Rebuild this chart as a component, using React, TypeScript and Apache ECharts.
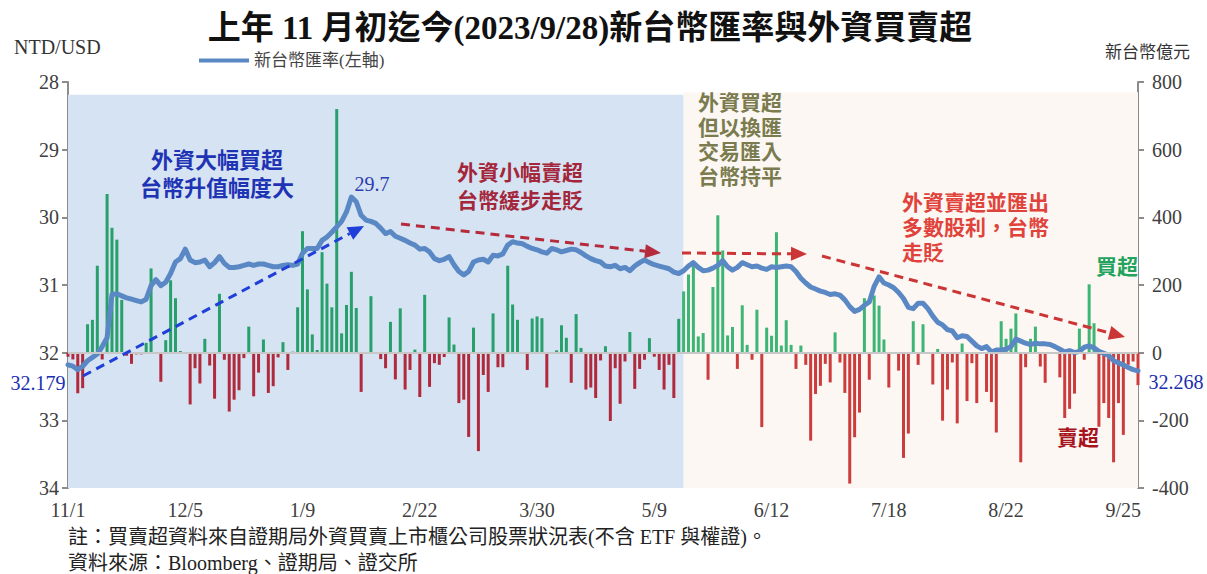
import React, { useEffect, useRef } from "react";
import * as echarts from "echarts";

// Trading days (month, days) from 2022/11/1 to 2023/9/28
const TRADING_MONTHS: Array<[number, number[]]> = [
  [11, [1, 2, 3, 4, 7, 8, 9, 10, 11, 14, 15, 16, 17, 18, 21, 22, 23, 24, 25, 28, 29, 30]],
  [12, [1, 2, 5, 6, 7, 8, 9, 12, 13, 14, 15, 16, 19, 20, 21, 22, 23, 26, 27, 28, 29, 30]],
  [1, [3, 4, 5, 6, 9, 10, 11, 12, 13, 16, 17, 30, 31]],
  [2, [1, 2, 3, 6, 7, 8, 9, 10, 13, 14, 15, 16, 17, 20, 21, 22, 23, 24]],
  [3, [1, 2, 3, 6, 7, 8, 9, 10, 13, 14, 15, 16, 17, 20, 21, 22, 23, 24, 27, 28, 29, 30, 31]],
  [4, [6, 7, 10, 11, 12, 13, 14, 17, 18, 19, 20, 21, 24, 25, 26, 27, 28]],
  [5, [2, 3, 4, 5, 8, 9, 10, 11, 12, 15, 16, 17, 18, 19, 22, 23, 24, 25, 26, 29, 30, 31]],
  [6, [1, 2, 5, 6, 7, 8, 9, 12, 13, 14, 15, 16, 19, 20, 21, 26, 27, 28, 29, 30]],
  [7, [3, 4, 5, 6, 7, 10, 11, 12, 13, 14, 17, 18, 19, 20, 21, 24, 25, 26, 27, 28, 31]],
  [8, [1, 2, 4, 7, 8, 9, 10, 11, 14, 15, 16, 17, 18, 21, 22, 23, 24, 25, 28, 29, 30, 31]],
  [9, [1, 4, 5, 6, 7, 8, 11, 12, 13, 14, 15, 18, 19, 20, 21, 22, 25, 26, 27, 28]],
];
const categories: string[] = TRADING_MONTHS.flatMap(([m, days]) => days.map((d) => `${m}/${d}`));

// NTD/USD exchange rate (left axis, inverted)
const fxRate: number[] = [
  32.179, 32.2, 32.25, 32.2, 32.12, 32.07, 32.02, 31.91, 31.78, 31.14,
  31.13, 31.16, 31.19, 31.21, 31.23, 31.25, 31.21, 31.01, 30.92, 31.01,
  30.96, 30.83, 30.66, 30.61, 30.47, 30.63, 30.67, 30.66, 30.63, 30.73,
  30.67, 30.58, 30.68, 30.74, 30.74, 30.73, 30.71, 30.69, 30.71, 30.69,
  30.69, 30.71, 30.73, 30.73, 30.71, 30.7, 30.71, 30.69, 30.53, 30.46,
  30.46, 30.46, 30.34, 30.29, 30.22, 30.14, 30.06, 29.92, 29.7, 29.77,
  29.97, 30.04, 30.06, 30.09, 30.16, 30.24, 30.21, 30.28, 30.31, 30.34,
  30.38, 30.41, 30.47, 30.46, 30.51, 30.61, 30.64, 30.62, 30.58, 30.7,
  30.8, 30.85, 30.8, 30.66, 30.63, 30.62, 30.66, 30.56, 30.57, 30.54,
  30.41, 30.36, 30.38, 30.39, 30.43, 30.46, 30.48, 30.51, 30.53, 30.46,
  30.48, 30.51, 30.49, 30.47, 30.48, 30.52, 30.57, 30.61, 30.64, 30.66,
  30.72, 30.73, 30.71, 30.76, 30.74, 30.79, 30.72, 30.67, 30.63, 30.67,
  30.7, 30.72, 30.74, 30.76, 30.81, 30.83, 30.79, 30.72, 30.67, 30.74,
  30.79, 30.78, 30.75, 30.71, 30.64, 30.73, 30.78, 30.74, 30.67, 30.7,
  30.73, 30.72, 30.75, 30.77, 30.73, 30.74, 30.73, 30.72, 30.73, 30.8,
  30.9, 30.97, 31.03, 31.06, 31.09, 31.11, 31.14, 31.13, 31.15, 31.22,
  31.32, 31.39, 31.36, 31.3, 31.25, 31.02, 30.88, 30.97, 31.0, 31.04,
  31.11, 31.2, 31.33, 31.35, 31.27, 31.27, 31.35, 31.46, 31.55, 31.59,
  31.66, 31.68, 31.78, 31.75, 31.76, 31.83, 31.9, 31.94, 31.91, 31.99,
  31.96, 31.96, 31.95, 31.91, 31.8, 31.83, 31.86, 31.88, 31.86, 31.87,
  31.87, 31.88, 31.91, 31.95, 31.99, 31.97, 32.0, 31.98, 31.92, 31.9,
  31.93, 31.98, 32.01, 32.04, 32.12, 32.15, 32.18, 32.22, 32.25, 32.268,
];

// Foreign net buy/sell, NT$ 100 million (right axis)
const netBuy: number[] = [
  -12, -20, -120, -105, 84, 97, 257, -20, 469, 369,
  334, 156, -9, -33, -5, -5, 29, 249, 0, -86,
  37, 214, 161, 5, 0, -153, -46, -91, 41, -38,
  -136, 174, -21, -174, -139, -111, -16, 77, -129, -59,
  39, -119, -99, -14, 31, -51, 3, 134, 359, 187,
  54, 8, 297, 204, 134, 720, 57, 141, 239, 132,
  -116, 0, 167, 0, -19, -46, 91, -79, 131, -109,
  -51, 9, -131, 171, -101, -31, -36, -13, 104, 24,
  -149, -139, -249, 74, -291, -66, -116, 116, -43, -43,
  257, 142, 97, 0, -51, 101, 107, 102, -103, 0,
  7, 81, 44, -89, 114, 14, -109, -103, -134, -23,
  19, -202, -46, -151, -26, 61, -107, -48, -21, 43,
  -12, -51, -109, -36, -134, 100, 181, 231, 256, 48,
  58, -80, 194, 406, 302, 51, 76, -48, 140, 23,
  -21, 127, -220, 74, 50, 356, 21, 96, 23, -48,
  21, -36, -260, -122, -98, -33, -88, 60, -29, -119,
  -387, -250, -177, 161, -80, 169, 139, 39, -103, 0,
  -53, -311, -239, 93, -36, 84, 0, -94, 11, -201,
  -109, -29, -209, 27, -143, -31, -149, 0, -116, -146,
  -236, 93, 41, 71, 116, -324, -43, 41, 77, -41,
  -89, 0, 0, -73, -193, -166, -121, 71, -21, 202,
  87, -219, -149, -193, -324, -149, -243, -36, -26, -96,
];

const leftTicks = { min: 28, max: 34, interval: 1 };
const rightTicks = { min: -400, max: 800, interval: 200 };
const phaseSplitIndex = 126; // shaded periods boundary

const SERIF = "'Liberation Serif', 'Noto Sans CJK TC', serif";
const CJK = "'Liberation Serif', 'Noto Sans CJK TC', sans-serif";

function arrow(x1: number, y1: number, x2: number, y2: number, color: string) {
  const dx = x2 - x1;
  const dy = y2 - y1;
  const L = Math.hypot(dx, dy);
  const ux = dx / L;
  const uy = dy / L;
  const hl = 16;
  const hw = 7;
  const bx = x2 - ux * hl;
  const by = y2 - uy * hl;
  return [
    {
      type: "line",
      z: 100,
      silent: true,
      shape: { x1, y1, x2: bx, y2: by },
      style: { stroke: color, lineWidth: 3, lineDash: [9, 6] },
    },
    {
      type: "polygon",
      z: 100,
      silent: true,
      shape: {
        points: [
          [x2, y2],
          [bx - uy * hw, by + ux * hw],
          [bx + uy * hw, by - ux * hw],
        ],
      },
      style: { fill: color },
    },
  ];
}

function txt(
  text: string,
  x: number,
  y: number,
  opts: { size: number; color: string; bold?: boolean; align?: string; lineHeight?: number; family?: string }
) {
  return {
    type: "text",
    z: 100,
    silent: true,
    style: {
      text,
      x,
      y,
      fill: opts.color,
      fontSize: opts.size,
      fontWeight: opts.bold ? "bold" : "normal",
      fontFamily: opts.family || CJK,
      lineHeight: opts.lineHeight,
      align: opts.align || "center",
      textAlign: opts.align || "center",
      verticalAlign: "middle",
      textVerticalAlign: "middle",
    },
  };
}

export default function App() {
  const ref = useRef<HTMLDivElement>(null);

  useEffect(() => {
    if (!ref.current) return;
    const chart = echarts.init(ref.current, undefined, { renderer: "svg" });
    const axisLineStyle = { color: "#8c8c8c", width: 2 };

    const option: any = {
      animation: false,
      backgroundColor: "#ffffff",
      grid: { left: 68, right: 69, top: 82, bottom: 86, containLabel: false },
      legend: {
        data: ["新台幣匯率(左軸)"],
        left: 194,
        top: 47,
        icon: "rect",
        itemWidth: 50,
        itemHeight: 4,
        itemGap: 4,
        textStyle: { fontSize: 17, color: "#444", fontFamily: CJK },
        selectedMode: false,
      },
      xAxis: {
        type: "category",
        data: categories,
        boundaryGap: false,
        axisLine: { show: false },
        axisTick: { show: false },
        splitLine: { show: false },
        axisLabel: { interval: 23, fontSize: 20, color: "#404040", fontFamily: SERIF, margin: 12 },
      },
      yAxis: [
        {
          type: "value",
          position: "left",
          inverse: true,
          min: leftTicks.min,
          max: leftTicks.max,
          interval: leftTicks.interval,
          axisLine: { show: true, lineStyle: axisLineStyle },
          axisTick: { show: true, length: 6, lineStyle: axisLineStyle },
          splitLine: { show: false },
          axisLabel: { fontSize: 20, color: "#404040", fontFamily: SERIF, margin: 9 },
        },
        {
          type: "value",
          position: "right",
          min: rightTicks.min,
          max: rightTicks.max,
          interval: rightTicks.interval,
          axisLine: { show: true, lineStyle: axisLineStyle },
          axisTick: { show: true, length: 6, lineStyle: axisLineStyle },
          splitLine: { show: false },
          axisLabel: { fontSize: 20, color: "#404040", fontFamily: SERIF, margin: 14 },
        },
      ],
      series: [
        {
          name: "bg",
          type: "line",
          yAxisIndex: 0,
          data: categories.map(() => null),
          symbol: "none",
          silent: true,
          z: 1,
          lineStyle: { width: 0 },
          markArea: {
            silent: true,
            label: { show: false },
            data: [
              [
                { xAxis: categories[0], yAxis: 28.19, itemStyle: { color: "#d5e3f2" } },
                { xAxis: categories[phaseSplitIndex], yAxis: 34 },
              ],
              [
                { xAxis: categories[phaseSplitIndex], yAxis: 28.15, itemStyle: { color: "#fcf7f3" } },
                { xAxis: categories[categories.length - 1], yAxis: 34 },
              ],
            ],
          },
          markLine: {
            silent: true,
            symbol: "none",
            label: { show: false },
            lineStyle: { color: "#c8c8c8", width: 2, type: "solid" },
            data: [{ yAxis: 32 }],
          },
        },
        {
          name: "外資買賣超",
          type: "bar",
          yAxisIndex: 1,
          data: netBuy,
          barWidth: 3,
          z: 2,
          itemStyle: {
            color: (p: any) => {
              const early = p.dataIndex < phaseSplitIndex;
              if (p.value >= 0) return early ? "#27a06c" : "#3db574";
              return early ? "#b0293d" : "#cc3c3c";
            },
          },
        },
        {
          name: "新台幣匯率(左軸)",
          type: "line",
          yAxisIndex: 0,
          data: fxRate,
          symbol: "none",
          z: 3,
          itemStyle: { color: "#5a88c4" },
          lineStyle: { color: "#5a88c4", width: 5, cap: "round", join: "round" },
        },
      ],
      graphic: [
        txt("上年 11 月初迄今(2023/9/28)新台幣匯率與外資買賣超", 590, 28, {
          size: 33,
          color: "#111",
          bold: true,
        }),
        txt("NTD/USD", 14, 47, { size: 20, color: "#333", align: "left", family: SERIF }),
        txt("新台幣億元", 1190, 52, { size: 17, color: "#333", align: "right" }),
        txt("外資大幅買超\n台幣升值幅度大", 217, 174, { size: 22, color: "#1f33b5", bold: true, lineHeight: 28 }),
        txt("29.7", 372, 184, { size: 20, color: "#2a3cb0", family: SERIF }),
        txt("外資小幅賣超\n台幣緩步走貶", 520, 187, { size: 21, color: "#a3263a", bold: true, lineHeight: 28 }),
        txt("外資買超\n但以換匯\n交易匯入\n台幣持平", 740, 140, {
          size: 21,
          color: "#7a7b4e",
          bold: true,
          lineHeight: 24.7,
        }),
        txt("外資賣超並匯出\n多數股利，台幣\n走貶", 902, 228, {
          size: 21,
          color: "#e0433b",
          bold: true,
          align: "left",
          lineHeight: 25,
        }),
        txt("買超", 1117, 267, { size: 21, color: "#22a35e", bold: true }),
        txt("賣超", 1078, 438, { size: 21, color: "#a8141e", bold: true }),
        txt("32.179", 38, 383, { size: 20, color: "#1a2fb0", family: SERIF }),
        txt("32.268", 1176, 382, { size: 20, color: "#1a2fb0", family: SERIF }),
        txt("註：買賣超資料來自證期局外資買賣上市櫃公司股票狀況表(不含 ETF 與權證)。", 68, 537, {
          size: 20,
          color: "#222",
          align: "left",
        }),
        txt("資料來源：Bloomberg、證期局、證交所", 68, 563, { size: 20, color: "#222", align: "left" }),
        ...arrow(83, 376, 364, 226, "#1f3fd8"),
        ...arrow(401, 224, 661, 253, "#b52a3c"),
        ...arrow(682, 253, 807, 254, "#cc3535"),
        ...arrow(822, 256, 1125, 337, "#cc3535"),
      ],
    };

    chart.setOption(option);
    return () => chart.dispose();
  }, []);

  return (
    <div
      ref={ref}
      style={{ position: "fixed", left: 0, top: 0, width: 1207, height: 574, background: "#fff" }}
    />
  );
}
